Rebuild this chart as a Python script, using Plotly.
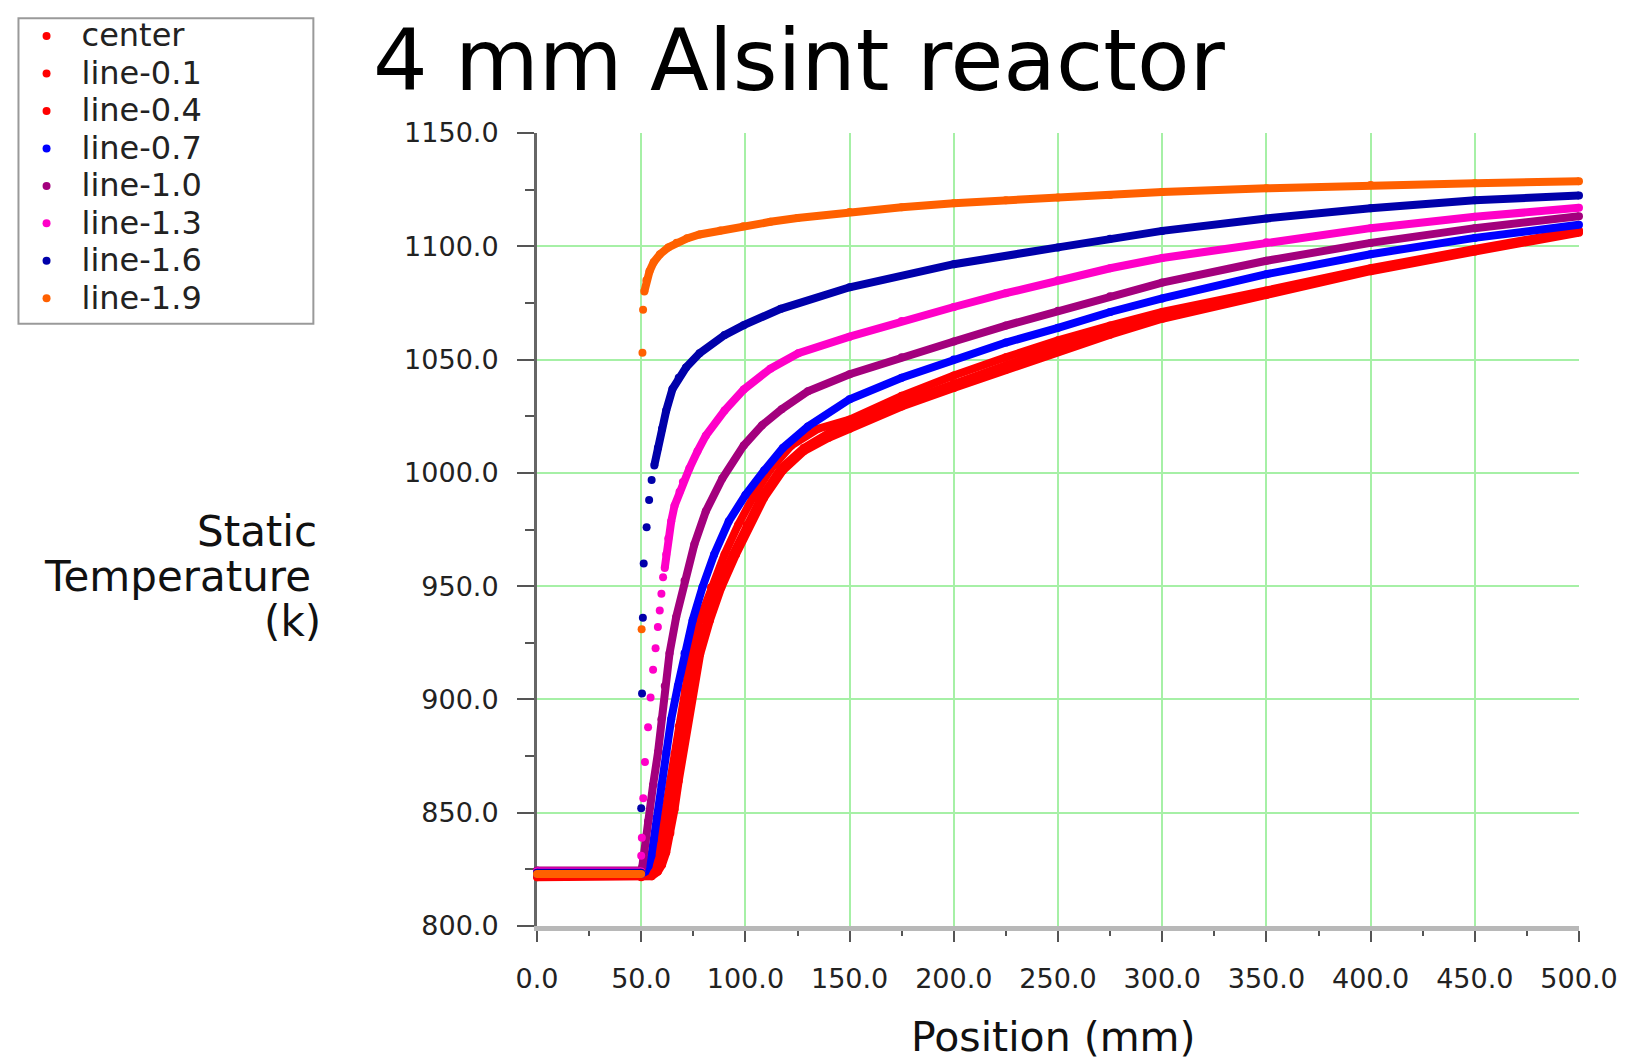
import plotly.graph_objects as go

# ---------------- data ----------------
# Position (mm) / Static Temperature (K)
center_x = [0, 50, 55, 58, 60, 62, 64, 66, 68, 70, 72, 75, 78.3, 83, 88.5, 95.5, 102, 109, 118, 128, 140, 150, 175, 200, 225, 250, 275, 300, 350, 400, 450, 500]
center_y = [821.5, 821.5, 822, 824, 827, 832.5, 841, 851.5, 864, 876, 888, 904, 920, 935, 949.5, 964, 977, 989, 1001, 1009.5, 1015.5, 1019.5, 1029.3, 1037.5, 1045.5, 1053.5, 1061, 1068, 1078.5, 1089, 1097.7, 1106]

l01_x = [0, 50, 54, 57, 59, 61, 63, 65, 67, 69, 71, 74, 77, 81.7, 87, 94, 100.5, 107.5, 117, 128, 140, 150, 175, 200, 225, 250, 275, 300, 350, 400, 450, 500]
l01_y = [822, 822, 822.5, 824.5, 827.5, 833, 841.5, 852, 864, 876, 888, 904, 920, 935, 949.5, 964, 977, 989, 1002, 1011, 1017.5, 1021, 1031, 1039.5, 1047.5, 1055.5, 1062.5, 1069.3, 1079.5, 1089.7, 1098.2, 1106.4]

l04_x = [0, 50, 52, 54.5, 56, 58, 60, 62, 64, 66, 68, 71, 74, 78, 83.5, 90, 96.5, 103.5, 112, 122, 135, 150, 175, 200, 225, 250, 275, 300, 350, 400, 450, 500]
l04_y = [822.5, 822.5, 823, 825, 828, 833.5, 842, 852.5, 864, 876, 888, 904, 920, 935, 949.5, 964, 977, 989, 1001.5, 1012, 1019.5, 1023.5, 1034, 1043, 1051, 1058.5, 1065, 1071, 1080.5, 1090.3, 1098.8, 1107]

l07_x = [0, 50, 52, 53.5, 54.9, 56, 57.3, 59.7, 62, 64.4, 67.6, 70.8, 74.7, 79.4, 85, 92, 100, 109, 118, 130, 150, 175, 200, 225, 250, 275, 300, 350, 400, 450, 500]
l07_y = [823, 823, 824, 826.5, 831, 838, 847.6, 862.2, 876.8, 891.3, 905.9, 920.4, 935, 949.5, 964, 978.6, 990.2, 1001, 1011, 1020.5, 1032.5, 1042, 1050, 1057.5, 1064, 1071, 1077, 1087.7, 1096.5, 1103.7, 1109.5]

l10_x = [0, 50, 50.5, 51, 53.3, 55.7, 58.1, 59.7, 61.3, 63.6, 66.8, 70.8, 75.5, 81, 88.9, 99.2, 108, 117.4, 130, 150, 175, 200, 225, 250, 275, 300, 350, 400, 450, 500]
l10_y = [824.5, 824.5, 826, 830, 846.2, 862.2, 876.8, 891.3, 905.9, 920.4, 936.4, 952.4, 968.4, 983, 997.5, 1012.1, 1021, 1028.1, 1036, 1043.5, 1051, 1058, 1065, 1071.5, 1078, 1084, 1093.6, 1101.5, 1108, 1113.3]

# line-1.3: flat inlet part, isolated points on the steep rise, then the dense part
l13_flat_x = [0, 50]
l13_flat_y = [824, 824]
l13_dots_x = [50.0, 50.3, 51.0, 51.8, 53.3, 54.5, 55.7, 56.9, 58.0, 58.9, 59.7, 60.5]
l13_dots_y = [831, 839, 856.4, 872.4, 887.7, 900.8, 913.1, 922.6, 932, 939.3, 946.6, 953.9]
l13_x = [61.3, 62, 63, 64.4, 66, 68.4, 70, 73.1, 77, 81, 90, 99.2, 112, 125.4, 150, 175, 200, 225, 250, 275, 300, 350, 400, 450, 500]
l13_y = [958, 964, 971, 978.6, 985.5, 991.7, 996, 1001.9, 1009.5, 1016.4, 1027.5, 1036.8, 1046, 1052.8, 1060.1, 1067, 1073.2, 1079.3, 1085, 1090.3, 1094.8, 1101.8, 1108, 1113, 1117]

l16_flat_x = [0, 50]
l16_flat_y = [823.5, 823.5]
l16_dots_x = [50.0, 50.4, 50.8, 51.2, 52.6, 53.8, 55.0]
l16_dots_y = [852, 902.6, 936, 960, 976, 988, 996.8]
l16_x = [56.3, 58, 60, 62, 65, 68, 71.5, 78, 90, 99.2, 117, 150, 200, 250, 275, 300, 350, 400, 450, 500]
l16_y = [1003.3, 1011, 1019.5, 1027.5, 1037, 1042, 1046.5, 1052.8, 1060.8, 1065.2, 1072.4, 1081.9, 1092.1, 1099.5, 1103.3, 1106.8, 1112.3, 1116.8, 1120.3, 1122.4]

l19_flat_x = [0, 50]
l19_flat_y = [823, 823]
l19_dots_x = [50.2, 50.6, 50.9]
l19_dots_y = [931, 1053, 1072]
l19_x = [51.5, 52.5, 54, 56, 59, 63, 67, 72, 78, 88, 99, 112, 125, 150, 175, 200, 225, 250, 275, 300, 350, 400, 450, 500]
l19_y = [1080, 1085, 1089, 1093, 1096.5, 1099.5, 1101.6, 1103.5, 1105.2, 1107, 1108.8, 1110.8, 1112.5, 1115.1, 1117.2, 1119, 1120.3, 1121.5, 1122.6, 1124, 1125.6, 1127, 1127.8, 1128.7]

x_ticks = [0, 50, 100, 150, 200, 250, 300, 350, 400, 450, 500]
y_ticks = [800, 850, 900, 950, 1000, 1050, 1100, 1150]

# ---------------- layout helpers (pixel -> paper) ----------------
W, H = 1630, 1064
L, R, T, B = 536, 1589, 124, 926


def px_x(px):
    return (px - L) / (R - L)


def px_y(py):
    return (B - py) / (B - T)


FONT = "DejaVu Sans"
MS = 8   # marker size
LW = 8   # width of the dense marker band
LEG_TXT = 32

fig = go.Figure()


def add_series(name, color, flat_x, flat_y, dots_x, dots_y, band_x, band_y):
    # continuous band of densely packed points
    if dots_x:
        lx = list(flat_x) + [None] + list(band_x)
        ly = list(flat_y) + [None] + list(band_y)
    else:
        lx = list(flat_x) + list(band_x)
        ly = list(flat_y) + list(band_y)
    fig.add_trace(go.Scatter(
        x=lx, y=ly, mode="lines", line=dict(color=color, width=LW),
        legendgroup=name, showlegend=False, hoverinfo="skip", cliponaxis=False,
        connectgaps=False))
    fig.add_trace(go.Scatter(
        x=list(flat_x) + list(dots_x) + list(band_x),
        y=list(flat_y) + list(dots_y) + list(band_y),
        mode="markers",
        name=f'<span style="font-size:{LEG_TXT}px">{name}</span>',
        legendgroup=name,
        marker=dict(color=color, size=MS, line=dict(width=0)),
        cliponaxis=False))


add_series("center", "#ff0000", center_x[:2], center_y[:2], [], [], center_x[2:], center_y[2:])
add_series("line-0.1", "#ff0000", l01_x[:2], l01_y[:2], [], [], l01_x[2:], l01_y[2:])
add_series("line-0.4", "#ff0000", l04_x[:2], l04_y[:2], [], [], l04_x[2:], l04_y[2:])
add_series("line-0.7", "#0000ff", l07_x[:2], l07_y[:2], [], [], l07_x[2:], l07_y[2:])
add_series("line-1.0", "#a3007d", l10_x[:2], l10_y[:2], [], [], l10_x[2:], l10_y[2:])
add_series("line-1.3", "#ff00c8", l13_flat_x, l13_flat_y, l13_dots_x, l13_dots_y, l13_x, l13_y)
add_series("line-1.6", "#0000aa", l16_flat_x, l16_flat_y, l16_dots_x, l16_dots_y, l16_x, l16_y)
add_series("line-1.9", "#ff6000", l19_flat_x, l19_flat_y, l19_dots_x, l19_dots_y, l19_x, l19_y)

GRID = "#a6f0a6"
TICKC = "#555555"

fig.update_layout(
    width=W, height=H,
    margin=dict(l=L, r=W - R, t=T, b=H - B, pad=0),
    paper_bgcolor="white", plot_bgcolor="white",
    font=dict(family=FONT, color="#222222", size=27),
    showlegend=True,
    legend=dict(
        x=px_x(5), y=px_y(2), xanchor="left", yanchor="top",
        bgcolor="rgba(0,0,0,0)", borderwidth=0,
        font=dict(family=FONT, size=26.5, color="#222222"),
        itemwidth=60, tracegroupgap=0, itemclick=False, itemdoubleclick=False,
    ),
    xaxis=dict(
        range=[0, 500], tickmode="array", tickvals=x_ticks,
        ticktext=[f"{v:.1f}" for v in x_ticks],
        showgrid=True, gridcolor=GRID, gridwidth=2,
        zeroline=False, showline=True, linecolor="#b8b8b8", linewidth=5,
        ticks="outside", ticklen=11, tickwidth=2, tickcolor=TICKC,
        ticklabelstandoff=14,
        minor=dict(dtick=25, tick0=0, ticks="outside", ticklen=5, tickwidth=2,
                   tickcolor=TICKC, showgrid=False),
        tickfont=dict(family=FONT, size=27, color="#222222"),
        layer="below traces",
    ),
    yaxis=dict(
        range=[800, 1150], tickmode="array", tickvals=y_ticks,
        ticktext=[f"{v:.1f}" for v in y_ticks],
        showgrid=True, gridcolor=GRID, gridwidth=2,
        zeroline=False, showline=True, linecolor="#666666", linewidth=3,
        ticks="outside", ticklen=17, tickwidth=2, tickcolor=TICKC,
        ticklabelstandoff=13,
        minor=dict(dtick=25, tick0=800, ticks="outside", ticklen=9, tickwidth=2,
                   tickcolor=TICKC, showgrid=False),
        tickfont=dict(family=FONT, size=27, color="#222222"),
        layer="below traces",
    ),
    shapes=[
        # legend frame
        dict(type="rect", xref="paper", yref="paper",
             x0=px_x(12), x1=px_x(310), y0=px_y(8), y1=px_y(317),
             line=dict(color="#9a9a9a", width=2), fillcolor="rgba(0,0,0,0)", layer="above"),
    ],
)

annotations = [
    # title
    dict(text="4 mm Alsint reactor", x=px_x(801), y=px_y(102.5), xanchor="center", yanchor="bottom",
         font=dict(family=FONT, size=86, color="#000000")),
    # y-axis title, three right-aligned lines
    dict(text="Static", x=px_x(316), y=px_y(527.5), xanchor="right", yanchor="middle",
         font=dict(family=FONT, size=42, color="#111111")),
    dict(text="Temperature", x=px_x(310), y=px_y(573), xanchor="right", yanchor="middle",
         font=dict(family=FONT, size=42, color="#111111")),
    dict(text="(k)", x=px_x(320), y=px_y(618), xanchor="right", yanchor="middle",
         font=dict(family=FONT, size=42, color="#111111")),
    # x-axis title
    dict(text="Position (mm)", x=px_x(1058), y=px_y(1038), xanchor="center", yanchor="middle",
         font=dict(family=FONT, size=41, color="#111111")),
]
for a in annotations:
    a.update(xref="paper", yref="paper", showarrow=False)
fig.update_layout(annotations=annotations)

fig.write_html("out.html")
